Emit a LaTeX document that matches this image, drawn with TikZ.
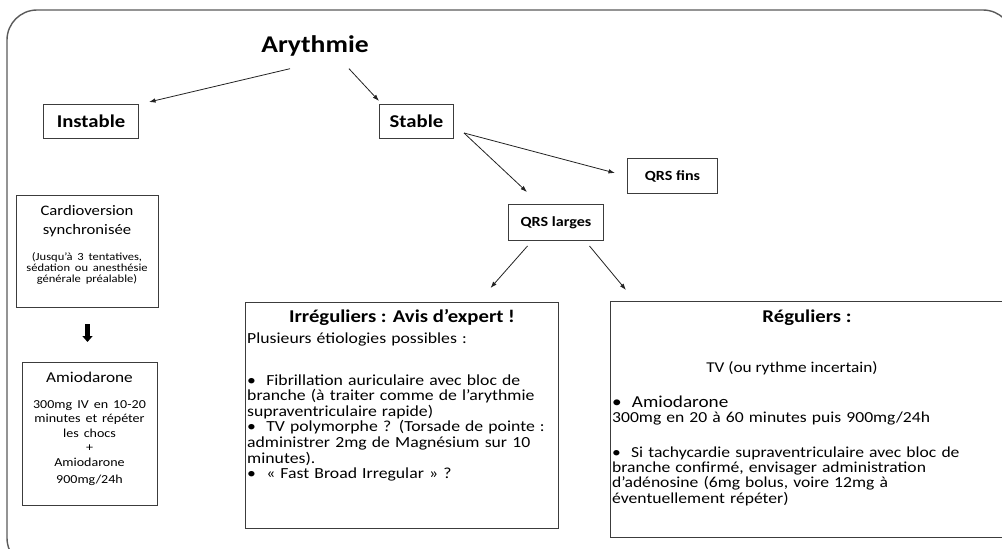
\documentclass[tikz,border=0pt]{standalone}
\usepackage{fontspec}
\setmainfont{Carlito}[FakeStretch=1.15]
\usepackage{tikz}
\usetikzlibrary{arrows.meta, positioning}
\definecolor{framegray}{HTML}{5A5A5A}
\definecolor{boxgray}{HTML}{3C3C3C}
\definecolor{darkgray}{HTML}{222222}

\begin{document}
\begin{tikzpicture}[
    x=1pt, y=-1pt,
    every node/.style={inner sep=0pt},
    frame/.style={draw=framegray, line width=1.4pt, rounded corners=30pt},
    box/.style={rectangle, draw=boxgray, line width=1pt, anchor=north west},
    lbl/.style={font=\bfseries\fontsize{18}{20}\selectfont},
    qrs/.style={font=\bfseries\fontsize{14}{16}\selectfont},
    ctr/.style={align=center, anchor=base},
    body/.style={font=\fontsize{15.4}{15.6}\selectfont, align=left, text width=360pt, anchor=base west},
    arrow/.style={line width=0.8pt, draw=darkgray, -{Latex[length=6.5pt, width=4.5pt]}},
    bigarrow/.style={line width=4.5pt, draw=black, -{Triangle[length=6pt, width=10pt]}}
]
\useasboundingbox (0,0) rectangle (1002,549);
\clip (0,0) rectangle (1002,549);

% Frame
\draw[frame] (7,10) rectangle (1013,568);

% Top of the tree
\node[anchor=base, font=\bfseries\fontsize{24}{26}\selectfont] (arythmie) at (315,52.7) {Arythmie};
\node[box, lbl, minimum width=95pt, minimum height=34pt] (instable) at (43,104) {Instable};
\node[box, lbl, minimum width=74pt, minimum height=34pt] (stable) at (379,104) {Stable};
\node[box, qrs, minimum width=90pt, minimum height=35pt] (qrsf) at (627,158) {QRS fins};
\node[box, qrs, minimum width=95pt, minimum height=36pt] (qrsl) at (508,204) {QRS larges};

% Instable branch
\node[box, minimum width=142pt, minimum height=112pt] (cardio) at (16,195) {};
\node[ctr, text width=140pt, font=\fontsize{14.5}{19}\selectfont] (cardiotxt) at (87,215)
  {Cardioversion\\synchronisée\\[15pt]{\fontsize{10.9}{11}\selectfont (Jusqu’à 3 tentatives,\\sédation ou anesthésie\\générale préalable)\par}};
\node[box, minimum width=135pt, minimum height=143pt] (amio) at (22,362) {};
\node[ctr, text width=133pt, font=\fontsize{15}{17}\selectfont] (amiotxt) at (89.5,382)
  {Amiodarone\\[11.5pt]\fontsize{12.2}{14.5}\selectfont 300mg IV en 10-20\\minutes et répéter\\les chocs\\+\\Amiodarone\\900mg/24h};

% Irreguliers
\node[box, minimum width=313pt, minimum height=226pt] (irreg) at (245,302) {};
\node[ctr, lbl] (irregtitle) at (402,322) {Irréguliers : Avis d’expert !};
\node[body] (irregtxt) at (247,343)
  {Plusieurs étiologies possibles :\\[26.4pt]
   •\ \ Fibrillation auriculaire avec bloc de\\
   branche (à traiter comme de l’arythmie\\
   supraventriculaire rapide)\\
   •\ \ TV polymorphe ? (Torsade de pointe :\\
   administrer 2mg de Magnésium sur 10\\
   minutes).\\
   •\ \ « Fast Broad Irregular » ?};

% Reguliers
\node[box, minimum width=396pt, minimum height=236pt] (regul) at (610,301) {};
\node[ctr, lbl] (regultitle) at (807,322) {Réguliers :};
\node[ctr, font=\fontsize{15}{16}\selectfont] (tv) at (792,372) {TV (ou rythme incertain)};
\node[body, font=\fontsize{15.3}{15.3}\selectfont] (regultxt) at (612,407)
  {{\fontsize{16.7}{15}\selectfont •\ \ Amiodarone}\\
   300mg en 20 à 60 minutes puis 900mg/24h\\[19.7pt]
   •\ \ Si tachycardie supraventriculaire avec bloc de\\
   branche confirmé, envisager administration\\
   d’adénosine (6mg bolus, voire 12mg à\\
   éventuellement répéter)};

% Arrows
\coordinate (stabout) at ([shift={(10,-6)}]stable.south east);
\draw[arrow] ([shift={(-25,16)}]arythmie.base) -- ([shift={(10,-2)}]instable.north east);
\draw[arrow] ([shift={(34,16)}]arythmie.base) -- ([shift={(0,-3)}]stable.north west);
\draw[arrow] (stabout) -- ([shift={(19,-12)}]qrsl.north west);
\draw[arrow] (stabout) -- ([shift={(-12,-3)}]qrsf.west);
\draw[arrow] ([shift={(-28.5,5)}]qrsl.south) -- ([shift={(88.5,-14)}]irreg.north);
\draw[arrow] ([shift={(33.5,5)}]qrsl.south) -- ([shift={(16,-11)}]regul.north west);
\draw[bigarrow] ([shift={(0,16)}]cardio.south) -- ([shift={(-2.5,-20)}]amio.north);

\end{tikzpicture}
\end{document}
